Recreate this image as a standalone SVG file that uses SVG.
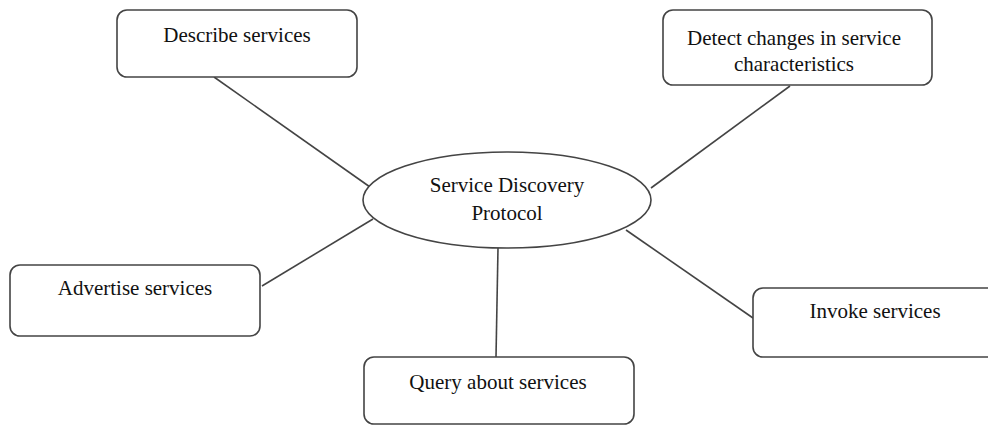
<svg xmlns="http://www.w3.org/2000/svg" width="988" height="426" viewBox="0 0 988 426">
<style>
.box{fill:#fff;stroke:#444;stroke-width:1.6}
.ln{stroke:#444;stroke-width:1.6;fill:none}
text{font-family:"Liberation Serif","Times New Roman",serif;font-size:21px;fill:#111;text-anchor:middle}
</style>
<rect width="988" height="426" fill="#fff"/>
<g id="connectors">
<line class="ln" x1="214" y1="77" x2="370" y2="187"/>
<line class="ln" x1="790" y1="86" x2="651" y2="188"/>
<line class="ln" x1="262" y1="286" x2="373" y2="219"/>
<line class="ln" x1="626" y1="230" x2="753" y2="318"/>
<line class="ln" x1="498" y1="248" x2="496" y2="357"/>
</g>
<g id="center">
<ellipse class="box" cx="507" cy="200" rx="144" ry="48"/>
<text x="507" y="192">Service Discovery</text>
<text x="507" y="220">Protocol</text>
</g>
<g id="describe">
<rect class="box" x="117" y="10" width="240" height="67" rx="10"/>
<text x="237" y="42">Describe services</text>
</g>
<g id="detect">
<rect class="box" x="663" y="10" width="269" height="75" rx="10"/>
<text x="794" y="45">Detect changes in service</text>
<text x="794" y="71">characteristics</text>
</g>
<g id="advertise">
<rect class="box" x="10" y="265" width="250" height="71" rx="10"/>
<text x="135" y="295">Advertise services</text>
</g>
<g id="query">
<rect class="box" x="364" y="357" width="270" height="67" rx="10"/>
<text x="498" y="389">Query about services</text>
</g>
<g id="invoke">
<rect class="box" x="753" y="288" width="245" height="69" rx="10"/>
<text x="875" y="318">Invoke services</text>
</g>
</svg>
